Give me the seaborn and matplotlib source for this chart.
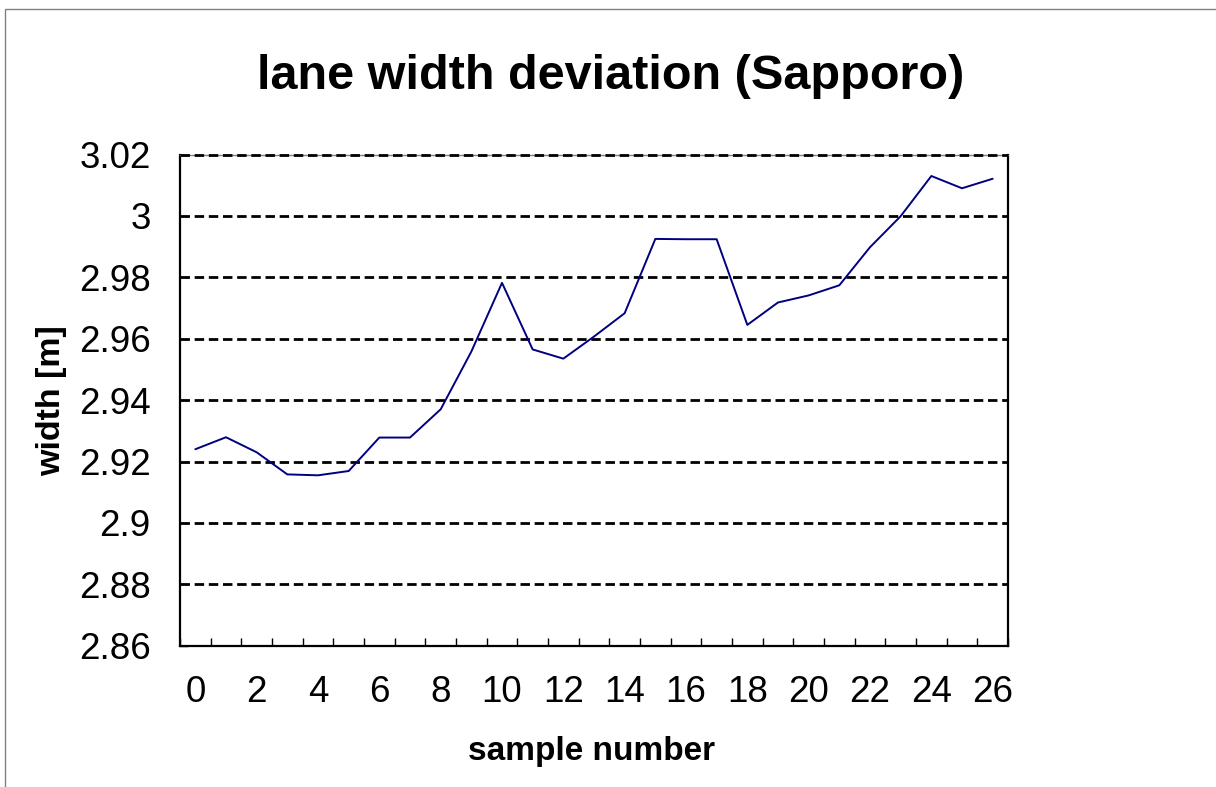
# lane width deviation chart (Sapporo), Excel-like look
import numpy as np
import pandas as pd
import matplotlib
matplotlib.use('Agg')
import matplotlib.pyplot as plt
import matplotlib.ticker as mticker
from matplotlib.patches import Rectangle
import seaborn as sns

# ── data ────────────────────────────────────────────────────────
sample_number = list(range(27))
width_m = [2.9240, 2.9279, 2.9230, 2.9158, 2.9155, 2.9169, 2.9278, 2.9278,
           2.9370, 2.9558, 2.9782, 2.9565, 2.9535, 2.9607, 2.9683, 2.9925,
           2.9924, 2.9924, 2.9645, 2.9718, 2.9741, 2.9774, 2.9898, 2.9999,
           3.0130, 3.0090, 3.0121]
y_range = (2.86, 3.02)
title = 'lane width deviation (Sapporo)'
xlabel = 'sample number'
ylabel = 'width [m]'

df = pd.DataFrame({'sample': sample_number, 'width': width_m})

# ── style ───────────────────────────────────────────────────────
sns.set_style('white')
plt.rcParams['font.family'] = ['Liberation Sans', 'DejaVu Sans']
plt.rcParams['text.color'] = 'black'
plt.rcParams['xtick.color'] = 'black'
plt.rcParams['ytick.color'] = 'black'
plt.rcParams['axes.labelcolor'] = 'black'

W, H = 1216, 787
fig = plt.figure(figsize=(W / 100, H / 100), dpi=100)
ax = fig.add_axes([180 / W, 1 - 645.7 / H, 828 / W, (645.7 - 154.5) / H])

sns.lineplot(data=df, x='sample', y='width', ax=ax, color='#000080',
             linewidth=1.4, zorder=4)

ax.set_xlim(-0.5, 26.5)
ax.set_ylim(*y_range)

# horizontal dashed grid
ax.yaxis.set_major_locator(mticker.MultipleLocator(0.02))
ax.yaxis.set_major_formatter(mticker.FuncFormatter(lambda v, _: f'{round(v, 2):g}'))
ax.grid(False)
for yv in ax.get_yticks():
    if y_range[0] < yv <= y_range[1] + 1e-9:
        ax.axhline(yv, color='black', linewidth=2.0, dashes=(3.4, 1.7),
                   zorder=3, clip_on=False)

# x: labels at every 2nd category, tick marks between categories
ax.xaxis.set_major_locator(mticker.MultipleLocator(2))
ax.xaxis.set_minor_locator(mticker.FixedLocator(np.arange(-0.5, 27, 1)))
ax.tick_params(axis='x', which='major', length=0, pad=21, labelsize=26.5,
               labelcolor='black')
ax.tick_params(axis='x', which='minor', direction='in', length=6, width=1,
               color='black', bottom=True)
ax.tick_params(axis='y', which='major', direction='in', length=6, width=1,
               color='black', left=True, pad=21, labelsize=26.5,
               labelcolor='black')

for side in ['left', 'right', 'bottom']:
    ax.spines[side].set_color('black')
    ax.spines[side].set_linewidth(1.6)
ax.spines['top'].set_color('#808080')
ax.spines['top'].set_linewidth(1.0)

ax.set_xlabel('')
ax.set_ylabel('')

# titles and axis labels
fig.text(611 / W, 1 - 89 / H, title, ha='center', va='baseline',
         fontsize=35, fontweight='bold', color='black')
fig.text(592 / W, 1 - 760 / H, xlabel, ha='center', va='baseline',
         fontsize=24, fontweight='bold', color='black')
fig.text(36 / W, 1 - 401 / H, ylabel, ha='left', va='center', rotation=90,
         fontsize=24.5, fontweight='bold', color='black')

# grey outer chart border (left and top visible)
fig.add_artist(Rectangle((5 / W, -0.1), 1.2, 1 - 9 / H + 0.1,
                         transform=fig.transFigure, fill=False,
                         edgecolor='#808080', linewidth=1.0))

fig.savefig('out.png', dpi=100)
